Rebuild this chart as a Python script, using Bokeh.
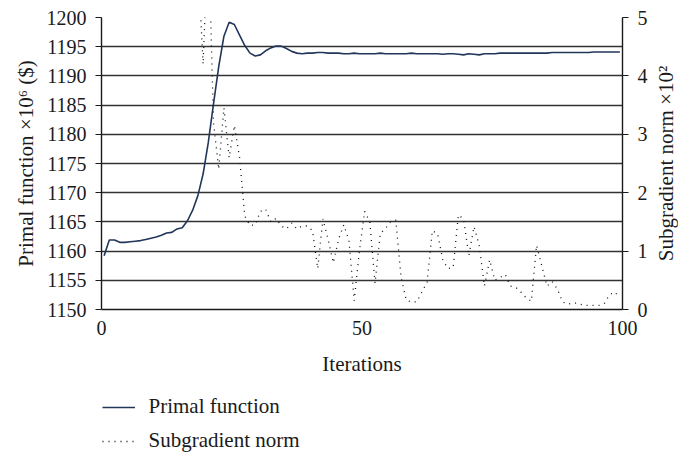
import numpy as np
from bokeh.plotting import figure
from bokeh.layouts import column, row
from bokeh.models import (Range1d, LinearAxis, FixedTicker, Legend, LegendItem,
                          ColumnDataSource)
from bokeh.embed import file_html
from bokeh.resources import INLINE

# ---- data -------------------------------------------------------------
iterations = list(range(100))

# primal function value (x10^6 $)
primal = [
    1159.2, 1161.9, 1161.9, 1161.5, 1161.5, 1161.6, 1161.7, 1161.8, 1162.0, 1162.2,
    1162.4, 1162.7, 1163.1, 1163.2, 1163.8, 1164.0, 1165.2, 1167.0, 1169.5, 1173.2,
    1178.6, 1185.2, 1191.6, 1196.8, 1199.2, 1198.8, 1197.0, 1195.2, 1193.9, 1193.4,
    1193.6, 1194.3, 1194.8, 1195.1, 1195.1, 1194.7, 1194.2, 1193.9, 1193.8, 1193.9,
    1193.9, 1194.0, 1194.0, 1193.9, 1193.9, 1193.9, 1193.8, 1193.8, 1193.9, 1193.8,
    1193.8, 1193.8, 1193.8, 1193.9, 1193.8, 1193.8, 1193.8, 1193.8, 1193.8, 1193.9,
    1193.8, 1193.8, 1193.8, 1193.8, 1193.8, 1193.7, 1193.8, 1193.8, 1193.7, 1193.6,
    1193.8, 1193.7, 1193.6, 1193.8, 1193.8, 1193.8, 1193.9, 1193.9, 1193.9, 1193.9,
    1193.9, 1193.9, 1193.9, 1193.9, 1193.9, 1193.9, 1194.0, 1194.0, 1194.0, 1194.0,
    1194.0, 1194.0, 1194.0, 1194.0, 1194.1, 1194.1, 1194.1, 1194.1, 1194.1, 1194.1,
]

# subgradient norm (x10^2); early iterations lie above the axis range
nan = float("nan")
subgradient = [
    nan, nan, nan, nan, nan, nan, nan, nan, nan, nan,
    nan, nan, nan, nan, nan, nan, nan, 7.0, 6.0, 4.2,
    6.5, 3.2, 2.4, 3.45, 2.6, 3.15, 2.6, 1.6, 1.44, 1.45,
    1.68, 1.72, 1.5, 1.56, 1.43, 1.38, 1.48, 1.38, 1.43, 1.43,
    1.35, 0.7, 1.55, 1.2, 0.8, 1.2, 1.45, 1.18, 0.15, 1.0,
    1.68, 1.5, 0.45, 1.3, 1.39, 1.5, 1.53, 0.55, 0.16, 0.13,
    0.13, 0.3, 0.47, 1.35, 1.3, 0.85, 0.7, 0.72, 1.62, 1.55,
    0.92, 1.42, 1.1, 0.4, 0.85, 0.5, 0.55, 0.6, 0.4, 0.38,
    0.3, 0.2, 0.14, 1.1, 0.75, 0.4, 0.48, 0.35, 0.13, 0.09,
    0.11, 0.11, 0.07, 0.07, 0.07, 0.07, 0.1, 0.25, 0.3, 0.2,
]

x_ticks = [0, 50, 100]
left_ticks = list(range(1150, 1201, 5))
right_ticks = [0, 1, 2, 3, 4, 5]
series_names = ["Primal function", "Subgradient norm"]
x_title = "Iterations"
left_title = "Primal function \u00d710\u2076 ($)"
right_title = "Subgradient norm \u00d710\u00b2"

# ---- styling ----------------------------------------------------------
SERIF = "Liberation Serif"
INK = "#1a1a1a"
PRIMAL_STYLE = dict(line_color="#22365a", line_width=1.6)
NORM_STYLE = dict(line_color="#111111", line_width=1.3, line_dash="1 5")
CHART_W = 650
CHART_H = 380


def style_axis(ax):
    ax.axis_line_color = INK
    ax.axis_line_width = 1.4
    ax.major_tick_line_color = INK
    ax.major_tick_line_width = 1.2
    ax.major_tick_in = 0
    ax.minor_tick_in = 0
    ax.minor_tick_out = 0
    ax.major_label_text_font = SERIF
    ax.major_label_text_font_size = "20px"
    ax.major_label_text_color = INK
    ax.axis_label_text_font = SERIF
    ax.axis_label_text_font_size = "21px"
    ax.axis_label_text_font_style = "normal"
    ax.axis_label_text_color = INK


# each iteration's value is drawn at the centre of its step
src = ColumnDataSource(dict(
    x=np.array(iterations) + 0.5,
    primal=primal,
    subgradient=subgradient,
))

# ---- main chart -------------------------------------------------------
p = figure(width=CHART_W, height=CHART_H, output_backend="svg",
           toolbar_location=None,
           x_range=Range1d(0, 100), y_range=Range1d(1150, 1200),
           min_border_left=101, min_border_right=26, min_border_top=17,
           min_border_bottom=71)
p.outline_line_color = None
p.background_fill_color = "white"
p.border_fill_color = "white"
p.extra_y_ranges = {"norm": Range1d(0, 5)}

# horizontal grid lines only
p.xgrid.grid_line_color = None
p.ygrid.grid_line_color = "#333333"
p.ygrid.grid_line_width = 1.3

xa = p.xaxis[0]
style_axis(xa)
xa.ticker = FixedTicker(ticks=x_ticks)
xa.axis_label = x_title
xa.major_tick_out = 0
xa.major_label_standoff = 11
xa.axis_label_standoff = 14

ya = p.yaxis[0]
style_axis(ya)
ya.ticker = FixedTicker(ticks=left_ticks)
ya.axis_label = left_title
ya.major_tick_out = 6
ya.major_label_standoff = 9
ya.axis_label_standoff = 6

ra = LinearAxis(y_range_name="norm", ticker=FixedTicker(ticks=right_ticks))
style_axis(ra)
ra.major_tick_out = 6
ra.major_label_standoff = 9
p.add_layout(ra, "right")

p.line("x", "primal", source=src, **PRIMAL_STYLE)
p.line("x", "subgradient", source=src, y_range_name="norm", **NORM_STYLE)

# ---- strip carrying the right-hand title (reads bottom-to-top) --------
side = figure(width=678 - CHART_W, height=CHART_H, output_backend="svg",
              toolbar_location=None,
              x_range=Range1d(0, 1), y_range=Range1d(0, 1), x_axis_type=None,
              min_border_left=678 - CHART_W - 2, min_border_right=0,
              min_border_top=17, min_border_bottom=71)
side.outline_line_color = None
side.xgrid.visible = False
side.ygrid.visible = False
sa = side.yaxis[0]
style_axis(sa)
sa.ticker = FixedTicker(ticks=[])
sa.axis_line_color = None
sa.major_tick_out = 0
sa.major_label_standoff = 0
sa.axis_label = right_title
sa.axis_label_standoff = 0

# ---- legend strip under the chart -------------------------------------
key = figure(width=678, height=459 - CHART_H, output_backend="svg",
             toolbar_location=None, x_range=Range1d(0, 1), y_range=Range1d(0, 1),
             x_axis_type=None, y_axis_type=None,
             min_border_left=101, min_border_right=0, min_border_top=0,
             min_border_bottom=0)
key.outline_line_color = None
key.xgrid.visible = False
key.ygrid.visible = False
# legend-only renderers (a single missing point: nothing drawn in the strip)
key_primal = key.line([nan], [nan], **PRIMAL_STYLE)
key_norm = key.line([nan], [nan], **NORM_STYLE)

legend = Legend(items=[LegendItem(label=series_names[0], renderers=[key_primal]),
                       LegendItem(label=series_names[1], renderers=[key_norm])],
                location=(0.5, 6), orientation="vertical")
legend.border_line_color = None
legend.background_fill_alpha = 0
legend.margin = 0
legend.padding = 0
legend.glyph_width = 33
legend.glyph_height = 24
legend.label_height = 24
legend.spacing = 9
legend.label_standoff = 14
legend.label_text_font = SERIF
legend.label_text_font_size = "21px"
legend.label_text_color = INK
key.add_layout(legend, "center")

page = column(row(p, side, spacing=0), key, spacing=0)
open("out.html", "w").write(file_html(page, INLINE))
